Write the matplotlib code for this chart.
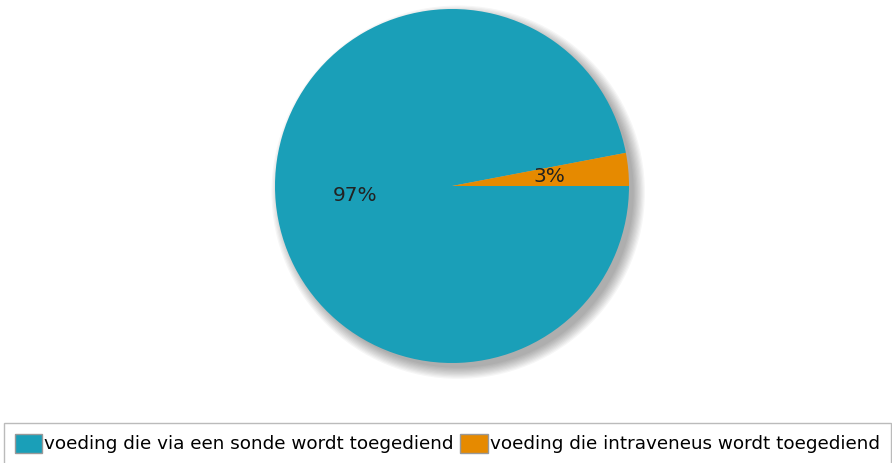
import numpy as np
import matplotlib.pyplot as plt
from matplotlib.patches import Circle, Patch

labels = ["voeding die via een sonde wordt toegediend",
          "voeding die intraveneus wordt toegediend"]
values = [97, 3]
colors = ["#1a9fb8", "#e68a00"]

fig = plt.figure(figsize=(8.92, 4.63), dpi=100)
ax = fig.add_axes([275 / 892, 100 / 463, 354 / 892, 354 / 463])

# soft shadow to the lower right
for i in range(10):
    ax.add_patch(Circle((0.035, -0.035), 0.985 + 0.007 * (10 - i), color="black",
                        alpha=0.035, lw=0, zorder=0, clip_on=False))

wedges, texts, autotexts = ax.pie(values, colors=colors, startangle=0,
                                  counterclock=False, radius=1.0,
                                  autopct="%d%%", pctdistance=0.55,
                                  wedgeprops=dict(linewidth=0))
ax.set_xlim(-1.0, 1.0)
ax.set_ylim(-1.0, 1.0)
ax.set_aspect("equal")
ax.axis("off")

for t in autotexts:
    t.set_fontsize(14.5)
    t.set_color("#222222")

handles = [Patch(facecolor=c, edgecolor="#999999", lw=1) for c in colors]
leg = fig.legend(handles, labels, ncol=2, loc="lower left",
                 bbox_to_anchor=(4 / 892, -0.003), fontsize=13.2,
                 frameon=True, fancybox=False, edgecolor="#aaaaaa",
                 handlelength=1.5, handleheight=1.2, handletextpad=0.1,
                 columnspacing=0.35, borderpad=0.6, borderaxespad=0.0)
leg.get_frame().set_linewidth(1)

fig.savefig("out.png", dpi=100)
